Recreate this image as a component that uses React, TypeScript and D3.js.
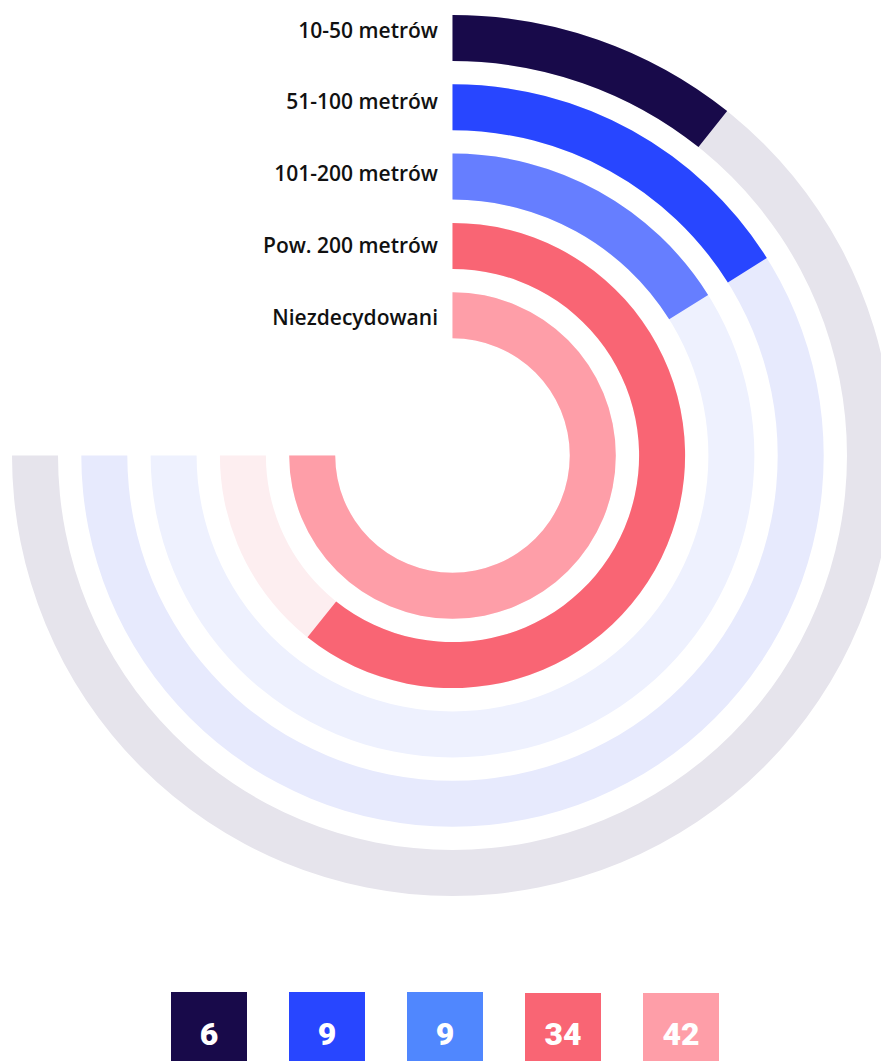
import React from "react";
import * as d3 from "d3";

const categories = ["10-50 metrów", "51-100 metrów", "101-200 metrów", "Pow. 200 metrów", "Niezdecydowani"];
const values = [6, 9, 9, 34, 42];
const barColors = ["#180a4a", "#2846ff", "#667eff", "#f96574", "#fe9ea8"];
const trackColors = ["#e6e4ec", "#e7eafd", "#eef1fe", "#fdeef0", "#ffeef1"];
const legendColors = ["#180a4a", "#2846ff", "#5087fe", "#f96574", "#fe9ea8"];

const W = 881;
const H = 1061;
const cx = 452.5;
const cy = 455.5;
const outerR = 440.5;
const ringW = 46;
const step = 69.3;

export default function App() {
  const maxV = d3.max(values) as number;
  const angle = d3.scaleLinear().domain([0, maxV]).range([0, 1.5 * Math.PI]);
  const arc = d3.arc<any>();
  const labelY = d3.scaleLinear().domain([0, values.length - 1]).range([37.5, 325]);
  const legendX = d3.scaleLinear().domain([0, values.length - 1]).range([171, 643]);
  const bw = 76;
  return (
    <svg width={W} height={H} style={{ position: "absolute", left: 0, top: 0 }}>
      <g transform={`translate(${cx},${cy})`}>
        {values.map((v, i) => {
          const ro = outerR - i * step;
          const ri = ro - ringW;
          const track = arc({ innerRadius: ri, outerRadius: ro, startAngle: 0, endAngle: 1.5 * Math.PI }) as string;
          const bar = arc({ innerRadius: ri, outerRadius: ro, startAngle: 0, endAngle: angle(v) }) as string;
          return (
            <g key={i}>
              <path d={track} fill={trackColors[i]} />
              <path d={bar} fill={barColors[i]} />
            </g>
          );
        })}
      </g>
      {categories.map((c, i) => (
        <text
          key={"t" + i}
          x={cx - 14.5}
          y={labelY(i)}
          textAnchor="end"
          fontFamily="'Open Sans', sans-serif"
          fontWeight={600}
          fontSize={21}
          fill="#111"
        >
          {c}
        </text>
      ))}
      {values.map((v, i) => {
        const x = legendX(i);
        const y = i < 3 ? 992 : 993;
        return (
          <g key={"l" + i}>
            <rect x={x} y={y} width={bw} height={76} fill={legendColors[i]} />
            <text
              x={x + bw / 2}
              y={1045}
              textAnchor="middle"
              fontFamily="Roboto, 'Liberation Sans', sans-serif"
              fontWeight={900}
              fontSize={32}
              fill="#ffffff"
            >
              {v}
            </text>
          </g>
        );
      })}
    </svg>
  );
}
